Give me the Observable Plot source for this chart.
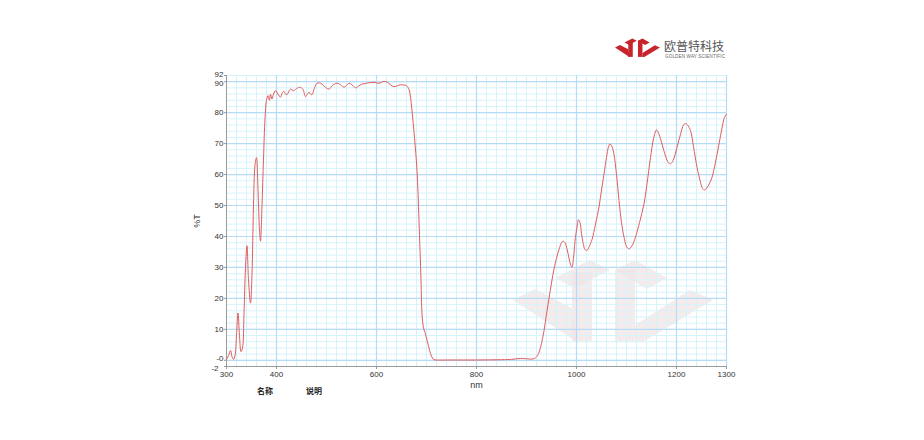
<!DOCTYPE html>
<html>
<head>
<meta charset="utf-8">
<script src="https://cdn.jsdelivr.net/npm/d3@7"></script>
<script src="https://cdn.jsdelivr.net/npm/@observablehq/plot@0.6"></script>
<style>
  html, body { margin: 0; padding: 0; background: #fff; }
  #wrap { position: relative; width: 924px; height: 440px; overflow: hidden; font-family: "Liberation Sans", Arial, sans-serif; }
  #wm { position: absolute; left: 0; top: 0; z-index: 0; }
  #chart { position: absolute; left: 0; top: 0; z-index: 1; }
  #logo { position: absolute; left: 0; top: 0; z-index: 2; }
  .note { position: absolute; z-index: 2; font-size: 8px; color: #222; font-family: "Noto Sans CJK SC", sans-serif; font-weight: bold; }
</style>
</head>
<body>
<div id="wrap">
  <svg id="wm" width="924" height="440"></svg>
  <div id="chart"></div>
  <svg id="logo" width="924" height="440"></svg>
  <div class="note" style="left:257px; top:385px;">名称</div>
  <div class="note" style="left:306px; top:385px;">说明</div>
</div>
<script>
// ---- data ----
const wavelengths = [
  300,304,308,311,314,317,320,323,326,329,332,335,338,341,344,348,351,354,357,360,
  363,366,368,371,374,377,380,383,386,388,391,394,398,403,408,412,415,418,421,425,
  428,432,435,440,448,453,458,462,465,468,471,476,481,486,491,498,505,512,521,528,
  535,540,545,551,558,564,571,580,595,605,615,622,628,635,642,648,655,660,665,668,
  671,676,681,685,689,691,694,697,701,705,708,712,715,720,750,800,850,870,888,900,
  912,918,922,926,930,935,940,945,950,955,960,965,970,973,977,981,985,988,991,994,
  997,1001,1004,1007,1010,1013,1017,1021,1026,1031,1038,1045,1050,1055,1060,1064,1067,1071,1075,1080,
  1085,1090,1095,1100,1105,1111,1118,1126,1135,1141,1148,1154,1160,1165,1171,1178,1184,1188,1193,1201,
  1208,1214,1218,1222,1228,1234,1241,1248,1252,1256,1262,1271,1278,1285,1291,1296,1300
];
const transmittance = [
  0.3,1.5,3.2,1.2,0.3,1.5,8,15.3,8,2.8,4,15,30,37,26,18.5,28,50,63,65.5,
  55,42,38.5,50,65,78,84,85.5,84,86,84.4,86,87.1,86,85,86.5,86.9,86,85.8,87,
  87.6,87.2,87.1,87.8,88.2,87.5,85.2,86,86.6,86,85.8,88,89.5,89.6,89.2,88.2,87.6,88.8,89.5,89,
  88.2,88.8,89.5,89,88,88.6,89.2,89.5,89.8,89.5,90.1,89.8,89,88.4,88.7,89,88.9,88.7,87.5,85,
  80.6,72,61.3,45,26,15,10.5,9,6.5,4,2.2,0.7,0.2,0.1,0.1,0.1,0.2,0.3,0.6,0.5,
  0.4,0.8,1.5,3,5.5,9.5,15,20,25,29.5,33,35.8,38,38.5,38,36,33,31,30,33,
  38.5,43,45.4,44.5,41,38,35.8,35.5,37,39,44,49.5,55,60.2,65.5,69,69.9,69,66.5,60,
  51.6,44.5,39.8,36.8,36,37,39.8,44.5,50.5,57,65.5,71.5,74.4,73,69.9,66,63.8,63.5,64.5,68.8,
  73,76,76.5,76,74.2,69,62.4,57.5,55.5,55,56,59.1,64,69.9,75,78.5,79.5
];
const xTicks = [300, 400, 600, 800, 1000, 1200, 1300];
const yTicks = [92, 90, 80, 70, 60, 50, 40, 30, 20, 10, 0, -2];
const yTicksMiddle = [80, 70, 60, 50, 40, 30, 20, 10];
const xMajorGrid = [400, 600, 800, 1000, 1200, 1300];
const xMinorGrid = d3.range(300, 1301, 20);
const yMajorGrid = [0, 10, 20, 30, 40, 50, 60, 70, 80, 90];
const yMinorGrid = d3.range(-2, 93, 2);
const xDomain = [300, 1300];
const yDomain = [-2, 92];

const spectrum = wavelengths.map((w, i) => ({nm: w, t: transmittance[i]}));

const minorColor = "#d6f3fb";
const majorColor = "#b6dbf4";
const axisColor = "#9a9a9a";
const fmtY = d => d === 0 ? "-0" : String(d);

const chart = Plot.plot({
  width: 924,
  height: 440,
  marginLeft: 226,
  marginRight: 198,
  marginTop: 75,
  marginBottom: 74,
  style: {background: "transparent", fontFamily: "'Liberation Sans', Arial, sans-serif", fontSize: "8px", color: "#333"},
  x: {domain: xDomain},
  y: {domain: yDomain},
  marks: [
    Plot.ruleY(yMinorGrid, {stroke: minorColor, strokeWidth: 1}),
    Plot.ruleX(xMinorGrid, {stroke: minorColor, strokeWidth: 1}),
    Plot.ruleY(yMajorGrid, {stroke: majorColor, strokeWidth: 1.2}),
    Plot.ruleX(xMajorGrid, {stroke: majorColor, strokeWidth: 1.2}),
    Plot.ruleX([xDomain[0]], {stroke: axisColor, strokeWidth: 1}),
    Plot.ruleY([yDomain[0]], {stroke: axisColor, strokeWidth: 1}),
    Plot.line(spectrum, {x: "nm", y: "t", stroke: "#e25c5c", strokeWidth: 1, curve: "catmull-rom"}),
    Plot.axisX({ticks: xTicks, tickSize: 3, tickPadding: 2, stroke: axisColor, tickFormat: d => String(d), label: "nm", labelAnchor: "center", labelArrow: "none", labelOffset: 21}),
    Plot.axisY({ticks: yTicks, tickSize: 2, stroke: axisColor, tickFormat: () => "", label: "%T", labelAnchor: "center", labelArrow: "none", labelOffset: 33}),
    Plot.axisY({ticks: yTicksMiddle, tickSize: 0, tickPadding: 3, tickFormat: fmtY, label: null}),
    Plot.axisY({ticks: [yTicks[0]], tickSize: 0, tickPadding: 3, dy: -1.5, tickFormat: fmtY, label: null}),
    Plot.axisY({ticks: [yTicks[1]], tickSize: 0, tickPadding: 3, dy: 1.5, tickFormat: fmtY, label: null}),
    Plot.axisY({ticks: [yTicks[10]], tickSize: 0, tickPadding: 3, dy: -1.5, tickFormat: fmtY, label: null}),
    Plot.axisY({ticks: [yTicks[11]], tickSize: 0, tickPadding: 8, dy: 1.5, tickFormat: fmtY, label: null})
  ]
});
document.getElementById("chart").appendChild(chart);
d3.select(chart).selectAll("[aria-label='x-axis label'] text, [aria-label='y-axis label'] text").style("font-size", "9px");

// ---- logo shape (decoration) ----
const logoShapes = [
  [[0,42],[22,31],[59,50],[64,84]],
  [[59,14],[79,14],[79,84],[59,84]],
  [[42,20],[77,2],[97,12],[62,30]],
  [[102,12],[122,12],[122,84],[102,84]],
  [[102,12],[122,2],[154,20],[134,31],[122,24]],
  [[122,67],[177,32],[200,42],[130,84],[122,84]]
];
function drawShapes(svgSel, tx, ty, s, fill, op) {
  const g = svgSel.append("g").attr("transform", `translate(${tx},${ty}) scale(${s})`);
  for (const p of logoShapes) {
    g.append("polygon").attr("points", p.map(q => q.join(",")).join(" ")).attr("fill", fill).attr("fill-opacity", op);
  }
}
drawShapes(d3.select("#wm"), 513, 258, 1, "#f2e2e2", 0.7);
const logo = d3.select("#logo");
drawShapes(logo, 615, 38, 0.225, "#c8242b", 1);
logo.append("text").attr("x", 664).attr("y", 51).attr("font-family", "'Noto Sans CJK SC', sans-serif").attr("font-size", 12).attr("fill", "#555").text("欧普特科技");
logo.append("text").attr("x", 665).attr("y", 58).attr("font-family", "'Liberation Sans', Arial, sans-serif").attr("font-size", 4.6).attr("fill", "#666").attr("textLength", 60).text("GOLDEN WAY SCIENTIFIC");
</script>
</body>
</html>
